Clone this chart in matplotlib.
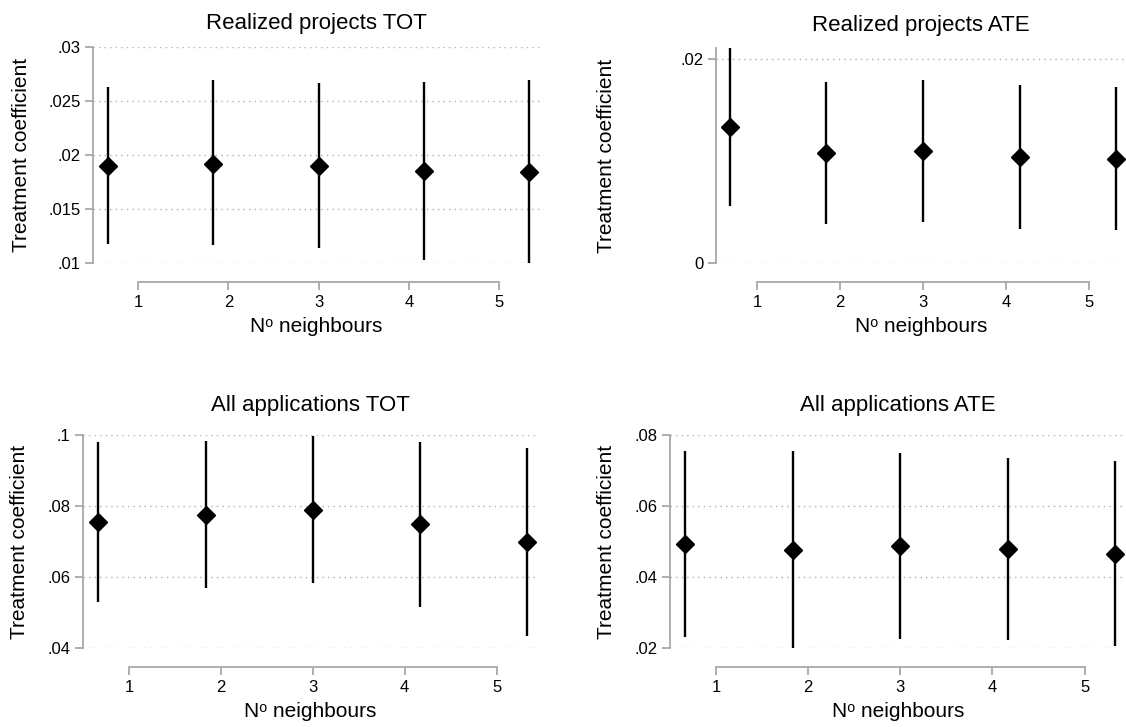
import matplotlib
matplotlib.use("Agg")
import matplotlib.pyplot as plt
import numpy as np

plt.rcParams['font.family'] = ['Liberation Sans', 'DejaVu Sans']

# x positions of the five estimates (offset around the 1..5 ticks)
xpos = [0.667, 1.833, 3.0, 4.167, 5.333]
xticks = [1, 2, 3, 4, 5]

# Realized projects TOT
rp_tot_coef = [0.0190, 0.0192, 0.0190, 0.0185, 0.0184]
rp_tot_lo = [0.0118, 0.0117, 0.0114, 0.0103, 0.0100]
rp_tot_hi = [0.0263, 0.0269, 0.0267, 0.0268, 0.0269]

# Realized projects ATE
rp_ate_coef = [0.0133, 0.01075, 0.0110, 0.0104, 0.0102]
rp_ate_lo = [0.0056, 0.0038, 0.0040, 0.0033, 0.0032]
rp_ate_hi = [0.0211, 0.0178, 0.0180, 0.0175, 0.0173]

# All applications TOT
aa_tot_coef = [0.0754, 0.0776, 0.0789, 0.0749, 0.0699]
aa_tot_lo = [0.0530, 0.0568, 0.0583, 0.0516, 0.0435]
aa_tot_hi = [0.0980, 0.0983, 0.0996, 0.0981, 0.0964]

# All applications ATE
aa_ate_coef = [0.0494, 0.0477, 0.0487, 0.0479, 0.0466]
aa_ate_lo = [0.0231, 0.0200, 0.0225, 0.0222, 0.0205]
aa_ate_hi = [0.0755, 0.0754, 0.0749, 0.0736, 0.0727]

panels = [
    ("Realized projects TOT", rp_tot_coef, rp_tot_lo, rp_tot_hi,
     [0.01, 0.015, 0.02, 0.025, 0.03], ['.01', '.015', '.02', '.025', '.03'], (0.01, 0.03)),
    ("Realized projects ATE", rp_ate_coef, rp_ate_lo, rp_ate_hi,
     [0.0, 0.02], ['0', '.02'], (0.0, 0.0211)),
    ("All applications TOT", aa_tot_coef, aa_tot_lo, aa_tot_hi,
     [0.04, 0.06, 0.08, 0.1], ['.04', '.06', '.08', '.1'], (0.04, 0.1)),
    ("All applications ATE", aa_ate_coef, aa_ate_lo, aa_ate_hi,
     [0.02, 0.04, 0.06, 0.08], ['.02', '.04', '.06', '.08'], (0.02, 0.08)),
]

W, H = 1126, 727
# axes boxes in pixels: left, right, top, bottom
boxes = [(93, 540, 47, 263), (716, 1126, 48, 263),
         (83, 538, 435, 648), (670, 1126, 435, 648)]
# right edge of the rotated y label, in pixels
ylab_x = [31, 616, 29, 616]
title_pad = [13, 12, 17, 17]

fig = plt.figure(figsize=(W / 100, H / 100), dpi=100)
spine_col = '#a8a8a8'

for i, ((title, coef, lo, hi, yt, ytl, ylim), (l, r, t, b)) in enumerate(zip(panels, boxes)):
    ax = fig.add_axes([l / W, (H - b) / H, (r - l) / W, (b - t) / H])
    ax.vlines(xpos, lo, hi, color='black', lw=1.7, zorder=3)
    ax.plot(xpos, coef, 'D', color='black', ms=9, zorder=4, clip_on=False)
    ax.set_xlim(0.5, 5.45)
    ax.set_ylim(*ylim)
    ax.set_xticks(xticks)
    ax.set_yticks(yt)
    ax.set_yticklabels(ytl)
    for y in yt:
        ax.axhline(y, color='#b0b0b0', lw=1.0, ls=(0, (1, 3)), zorder=1)
    for s in ['top', 'right']:
        ax.spines[s].set_visible(False)
    ax.spines['left'].set_color(spine_col)
    ax.spines['left'].set_linewidth(1.3)
    ax.spines['bottom'].set_color(spine_col)
    ax.spines['bottom'].set_linewidth(1.3)
    ax.spines['bottom'].set_position(('outward', 14))
    ax.spines['bottom'].set_bounds(1, 5)
    ax.tick_params(axis='both', color=spine_col, width=1.3, length=6,
                   labelsize=12, labelcolor='black', pad=3)
    ax.set_title(title, fontsize=16, pad=title_pad[i])
    ax.set_xlabel("N\u1d52 neighbours", fontsize=15, labelpad=5)
    ax.set_ylabel("Treatment coefficient", fontsize=15)
    ax.yaxis.set_label_coords((ylab_x[i] - l) / (r - l), 0.5)

fig.savefig("out.png", dpi=100)
